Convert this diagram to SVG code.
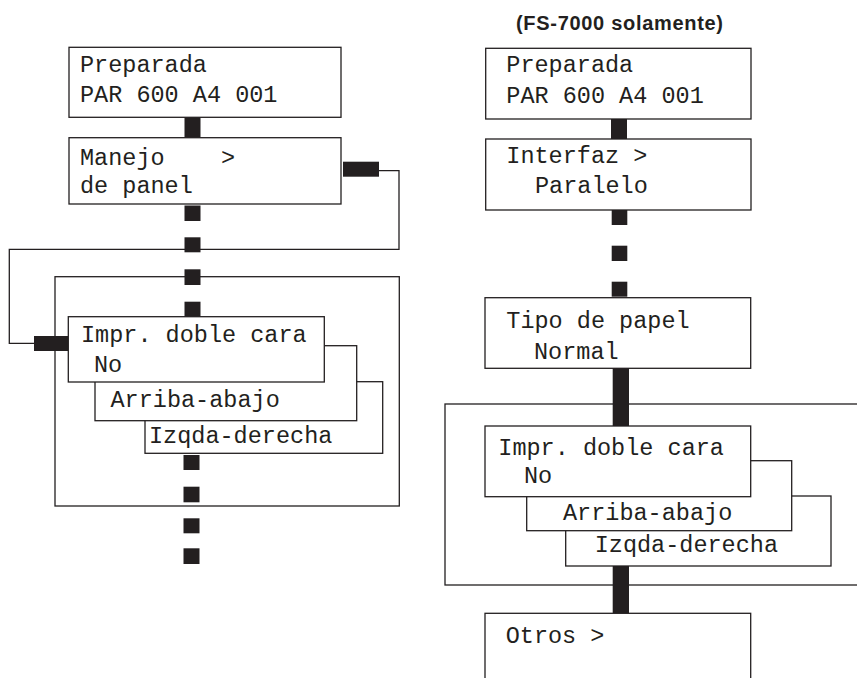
<svg xmlns="http://www.w3.org/2000/svg" width="857" height="678" viewBox="0 0 857 678">
<style>
.box{fill:#fff;stroke:#231f20;stroke-width:1.3}
.frame{fill:none;stroke:#231f20;stroke-width:1.3}
.ln{fill:none;stroke:#231f20;stroke-width:1.3}
.sq{fill:#231f20}
.t{font-family:"Liberation Mono","Courier New",monospace;font-size:23.5px;fill:#231f20;white-space:pre}
.h{font-family:"Liberation Sans",Arial,sans-serif;font-size:20px;font-weight:bold;fill:#231f20}
</style>
<text class="h" x="516" y="30" textLength="207">(FS-7000 solamente)</text>
<g id="frame-left"><rect class="frame" x="55" y="276.7" width="344.3" height="229.3"/></g>
<g id="frame-right"><rect class="frame" x="445" y="404" width="430" height="181"/></g>
<g id="connectors">
<rect class="sq" x="184.5" y="117.5" width="16" height="20"/>
<path class="ln" d="M379,170.7 H399 V249.3 H9.3 V343.3 H34"/>
<rect class="sq" x="343" y="161.7" width="36" height="15"/>
<rect class="sq" x="34" y="336" width="34" height="15"/>
<rect class="sq" x="184.5" y="205.5" width="16" height="15.5"/>
<rect class="sq" x="184.5" y="237.3" width="16" height="15"/>
<rect class="sq" x="184.5" y="269.3" width="16" height="15.7"/>
<rect class="sq" x="184.5" y="301.7" width="16" height="15"/>
<rect class="sq" x="183.5" y="455" width="16" height="15"/>
<rect class="sq" x="183.5" y="486.7" width="16" height="15.6"/>
<rect class="sq" x="183.5" y="518.3" width="16" height="15"/>
<rect class="sq" x="183.5" y="548.3" width="16" height="15.7"/>
<rect class="sq" x="611" y="119" width="16" height="20"/>
<rect class="sq" x="611.7" y="210" width="15.6" height="15"/>
<rect class="sq" x="611.7" y="245.7" width="15.6" height="15.3"/>
<rect class="sq" x="611.7" y="281.7" width="15.6" height="15"/>
<rect class="sq" x="612.7" y="368" width="16.3" height="58"/>
<rect class="sq" x="612.7" y="566" width="16.3" height="47.3"/>
</g>
<g id="l-preparada"><rect class="box" x="69" y="47.3" width="272" height="70"/>
<text class="t" x="80" y="71.7">Preparada</text><text class="t" x="80" y="101.7">PAR 600 A4 001</text></g>
<g id="l-manejo"><rect class="box" x="69" y="137.7" width="272" height="66.3"/>
<text class="t" x="80" y="165">Manejo    &gt;</text><text class="t" x="80" y="193">de panel</text></g>
<g id="l-izqda"><rect class="box" x="145" y="381.7" width="237.7" height="71.6"/>
<text class="t" x="149" y="443.3">Izqda-derecha</text></g>
<g id="l-arriba"><rect class="box" x="95" y="345.7" width="261.7" height="75"/>
<text class="t" x="110.5" y="407.3">Arriba-abajo</text></g>
<g id="l-impr"><rect class="box" x="68.3" y="316.7" width="256" height="65.3"/>
<text class="t" x="81" y="342.3">Impr. doble cara</text><text class="t" x="94" y="371.7">No</text></g>
<g id="r-preparada"><rect class="box" x="485.7" y="48.3" width="265.3" height="70.7"/>
<text class="t" x="506.3" y="72.3">Preparada</text><text class="t" x="506.3" y="102.7">PAR 600 A4 001</text></g>
<g id="r-interfaz"><rect class="box" x="485.7" y="139" width="265.3" height="71"/>
<text class="t" x="506.3" y="163.3">Interfaz &gt;</text><text class="t" x="535" y="193.3">Paralelo</text></g>
<g id="r-tipo"><rect class="box" x="485" y="297.7" width="265.7" height="70.6"/>
<text class="t" x="506.3" y="328.3">Tipo de papel</text><text class="t" x="534" y="359">Normal</text></g>
<g id="r-izqda"><rect class="box" x="565.7" y="496" width="265.3" height="70"/>
<text class="t" x="594.7" y="551.7">Izqda-derecha</text></g>
<g id="r-arriba"><rect class="box" x="526.7" y="460.7" width="265" height="70"/>
<text class="t" x="563" y="520">Arriba-abajo</text></g>
<g id="r-impr"><rect class="box" x="485" y="426" width="265.7" height="70.7"/>
<text class="t" x="498.3" y="455">Impr. doble cara</text><text class="t" x="524" y="482.7">No</text></g>
<g id="r-otros"><rect class="box" x="485" y="613.3" width="265.7" height="80"/>
<text class="t" x="505.7" y="643.3">Otros &gt;</text></g>
</svg>
